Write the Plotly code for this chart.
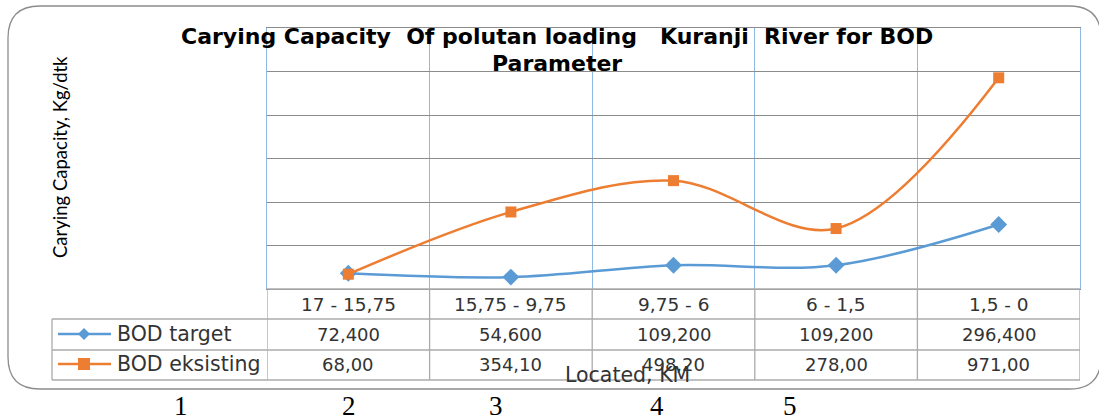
import plotly.graph_objects as go

# ---- data ----
categories = ["17 - 15,75", "15,75 - 9,75", "9,75 - 6", "6 - 1,5", "1,5 - 0"]
bod_target = [72.4, 54.6, 109.2, 109.2, 296.4]
bod_existing = [68.0, 354.1, 498.2, 278.0, 971.0]
series_names = ["BOD target", "BOD eksisting"]
footer_numbers = ["1", "2", "3", "4", "5"]

W, H = 1099, 418
BLUE = "#5B9BD5"
VGRID = "#8FB8E3"
ORANGE = "#ED7D31"
GRID = "#8C8C8C"
TGRID = "#ABABAB"
TXT = "#333333"

def px(x):
    return x / W

def py(y):
    return 1 - y / H

x_idx = list(range(len(categories)))

fig = go.Figure()
fig.add_trace(go.Scatter(
    x=x_idx, y=bod_target, name=series_names[0], mode="lines+markers",
    line=dict(color=BLUE, width=2.5, shape="spline", smoothing=1),
    marker=dict(symbol="diamond", size=13, color=BLUE), cliponaxis=False))
fig.add_trace(go.Scatter(
    x=x_idx, y=bod_existing, name=series_names[1], mode="lines+markers",
    line=dict(color=ORANGE, width=2.5, shape="spline", smoothing=1),
    marker=dict(symbol="square", size=11, color=ORANGE), cliponaxis=False))

# plot area: x 267..1080 px, y 28..289 px
n = len(categories)
fig.update_layout(
    width=W, height=H, margin=dict(l=0, r=0, t=0, b=0),
    paper_bgcolor="white", plot_bgcolor="white", showlegend=False,
    xaxis=dict(domain=[px(267), px(1080)], range=[-0.5, n - 0.5],
               tickvals=[i + 0.5 for i in range(n - 1)], showticklabels=False,
               showgrid=True, gridcolor=VGRID, gridwidth=1, zeroline=False,
               showline=True, linecolor=GRID, linewidth=1, mirror=True, ticks=""),
    yaxis=dict(domain=[py(289), py(28)], range=[0, 1200], dtick=200,
               showticklabels=False, showgrid=True, gridcolor=GRID, gridwidth=1,
               zeroline=False, showline=True, linecolor=VGRID, linewidth=1,
               mirror=True, ticks=""),
)

shapes = []
# rounded outer border
L, T, R, B, r = 8, 6, 1101, 389, 32
path = (f"M {px(L+r)},{py(T)} L {px(R-r)},{py(T)} Q {px(R)},{py(T)} {px(R)},{py(T+r)} "
        f"L {px(R)},{py(B-r)} Q {px(R)},{py(B)} {px(R-r)},{py(B)} "
        f"L {px(L+r)},{py(B)} Q {px(L)},{py(B)} {px(L)},{py(B-r)} "
        f"L {px(L)},{py(T+r)} Q {px(L)},{py(T)} {px(L+r)},{py(T)} Z")
shapes.append(dict(type="path", xref="paper", yref="paper", path=path,
                   line=dict(color="#8C8C8C", width=1.3), layer="below"))

# data table lines
row_y = [289, 319, 350, 380]
for i, yy in enumerate(row_y):
    x0 = 267 if i == 0 else 52
    shapes.append(dict(type="line", xref="paper", yref="paper", x0=px(x0), x1=px(1080),
                       y0=py(yy), y1=py(yy), line=dict(color=TGRID, width=1.3)))
for b in [i - 0.5 for i in range(n + 1)]:
    shapes.append(dict(type="line", xref="x", yref="paper", x0=b, x1=b,
                       y0=py(289), y1=py(380), line=dict(color=TGRID, width=1.3)))
shapes.append(dict(type="line", xref="paper", yref="paper", x0=px(52), x1=px(52),
                   y0=py(319), y1=py(380), line=dict(color=TGRID, width=1.3)))

# legend keys in table
for yy, col, sym in [(334, BLUE, "diamond"), (364, ORANGE, "square")]:
    shapes.append(dict(type="line", xref="paper", yref="paper", x0=px(58), x1=px(111),
                       y0=py(yy), y1=py(yy), line=dict(color=col, width=2.5)))
    if sym == "diamond":
        d = 6
        p = (f"M {px(84)},{py(yy-d)} L {px(84+d)},{py(yy)} L {px(84)},{py(yy+d)} "
             f"L {px(84-d)},{py(yy)} Z")
        shapes.append(dict(type="path", xref="paper", yref="paper", path=p,
                           fillcolor=col, line=dict(color=col, width=0)))
    else:
        s = 6
        shapes.append(dict(type="rect", xref="paper", yref="paper", x0=px(84-s), x1=px(84+s),
                           y0=py(yy+s), y1=py(yy-s), fillcolor=col,
                           line=dict(color=col, width=0)))
fig.update_layout(shapes=shapes)

ann = []
FT = "DejaVu Sans"

def note(x, y, text, size, family=FT, color=TXT, xref="paper", **kw):
    d = dict(x=x, y=y, xref=xref, yref="paper", text=text, showarrow=False,
             xanchor=kw.pop("xanchor", "center"), yanchor="middle",
             font=dict(family=family, size=size, color=color))
    d.update(kw)
    ann.append(d)

for i, c in enumerate(categories):
    note(i, py(304), c, 18.5, xref="x")
    note(i, py(334), f"{bod_target[i]:.3f}".replace(".", ","), 18, xref="x")
    note(i, py(364), f"{bod_existing[i]:.2f}".replace(".", ","), 18, xref="x")
for yy, name in zip([334, 364], series_names):
    note(px(115), py(yy), name, 20.5, xanchor="left")

# title
note(px(557), py(37), "<b>Carying Capacity  Of polutan loading   Kuranji  River for BOD</b>",
     22, color="black")
note(px(557), py(63), "<b>Parameter</b>", 22, color="black")
# axis titles
note(px(60), py(157), "Carying Capacity, Kg/dtk", 18.5, family="Lato", color="black",
     textangle=-90)
note(px(627), py(375), "Located, KM", 20.5)
# footer numbers
for xx, t in zip([181, 349, 496, 657, 790], footer_numbers):
    note(px(xx), py(406), t, 27, family="Liberation Serif", color="black")
fig.update_layout(annotations=ann)

fig.write_html("out.html", config={"displayModeBar": False},
               post_script="document.body.style.margin='0';")
